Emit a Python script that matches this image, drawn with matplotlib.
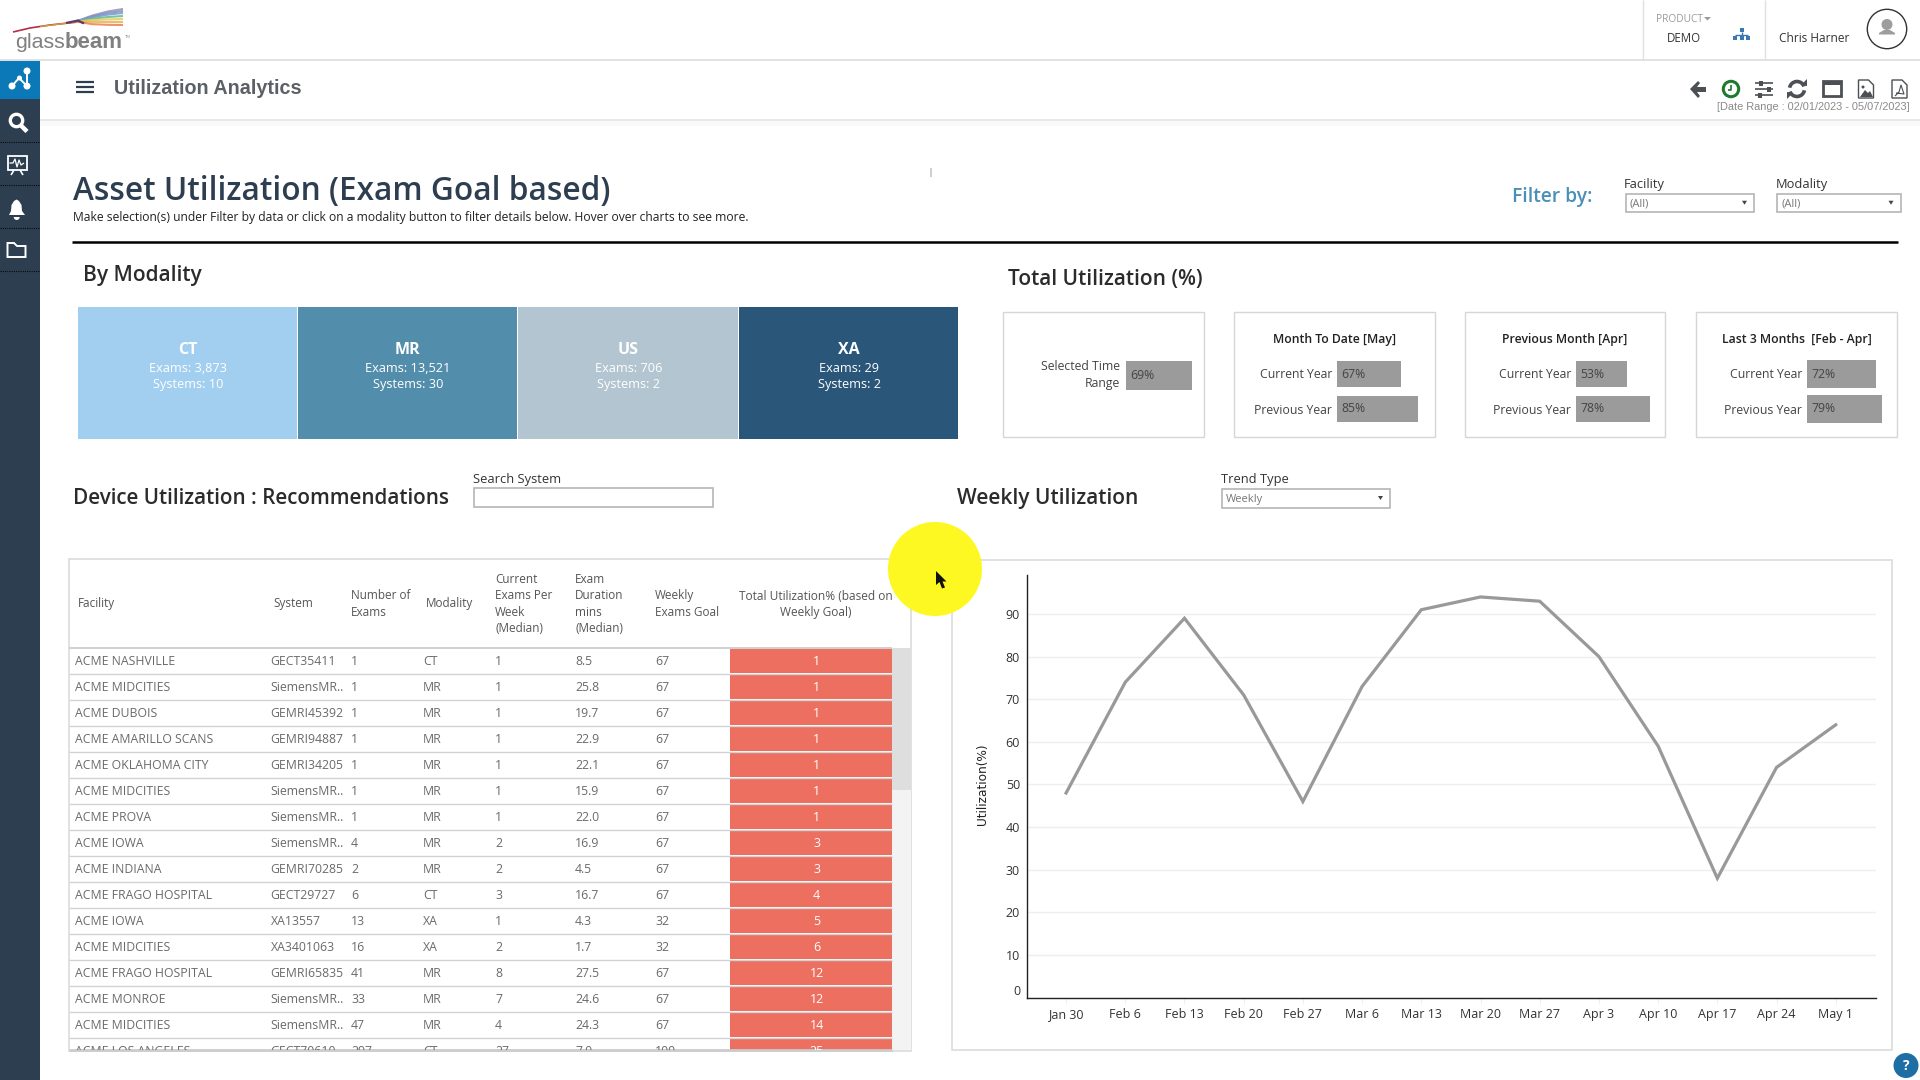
import matplotlib
matplotlib.use("Agg")
import matplotlib.pyplot as plt
from matplotlib.patches import Rectangle, Circle, Polygon, Arc, Wedge, Ellipse

plt.rcParams['font.family'] = ['Open Sans', 'DejaVu Sans']

# ---------- data ----------
modalities = ["CT", "MR", "US", "XA"]
modality_exams = ["3,873", "13,521", "706", "29"]
modality_systems = [10, 30, 2, 2]
modality_colors = ["#a2cff0", "#528eab", "#b3c5d1", "#2a5779"]

card_titles = ["", "Month To Date [May]", "Previous Month [Apr]", "Last 3 Months  [Feb - Apr]"]
selected_range = [69]
current_year = [67, 53, 72]
previous_year = [85, 78, 79]

facility = ["ACME NASHVILLE", "ACME MIDCITIES", "ACME DUBOIS", "ACME AMARILLO SCANS",
            "ACME OKLAHOMA CITY", "ACME MIDCITIES", "ACME PROVA", "ACME IOWA", "ACME INDIANA",
            "ACME FRAGO HOSPITAL", "ACME IOWA", "ACME MIDCITIES", "ACME FRAGO HOSPITAL",
            "ACME MONROE", "ACME MIDCITIES", "ACME LOS ANGELES"]
system = ["GECT35411", "SiemensMR..", "GEMRI45392", "GEMRI94887", "GEMRI34205", "SiemensMR..",
          "SiemensMR..", "SiemensMR..", "GEMRI70285", "GECT29727", "XA13557", "XA3401063",
          "GEMRI65835", "SiemensMR..", "SiemensMR..", "GECT70610"]
num_exams = [1, 1, 1, 1, 1, 1, 1, 4, 2, 6, 13, 16, 41, 33, 47, 297]
modality_col = ["CT", "MR", "MR", "MR", "MR", "MR", "MR", "MR", "MR", "CT", "XA", "XA", "MR", "MR", "MR", "CT"]
per_week = [1, 1, 1, 1, 1, 1, 1, 2, 2, 3, 1, 2, 8, 7, 4, 27]
duration = ["8.5", "25.8", "19.7", "22.9", "22.1", "15.9", "22.0", "16.9", "4.5", "16.7", "4.3",
            "1.7", "27.5", "24.6", "24.3", "7.0"]
goal = [67, 67, 67, 67, 67, 67, 67, 67, 67, 67, 32, 32, 67, 67, 67, 100]
total_util = [1, 1, 1, 1, 1, 1, 1, 3, 3, 4, 5, 6, 12, 12, 14, 25]

weeks = ["Jan 30", "Feb 6", "Feb 13", "Feb 20", "Feb 27", "Mar 6", "Mar 13", "Mar 20", "Mar 27",
         "Apr 3", "Apr 10", "Apr 17", "Apr 24", "May 1"]
utilization = [48, 74, 89, 71, 46, 73, 91, 94, 93, 80, 59, 28, 54, 64]
y_ticks = [0, 10, 20, 30, 40, 50, 60, 70, 80, 90]

# ---------- canvas ----------
W, H = 1920, 1080
fig = plt.figure(figsize=(19.2, 10.8), dpi=100, facecolor="white")
ui = fig.add_axes([0, 0, 1, 1], zorder=1)
ui.set_xlim(0, W); ui.set_ylim(H, 0); ui.axis("off")

def px_axes(x0, y0, x1, y1, z=2):
    return fig.add_axes([x0 / W, 1 - y1 / H, (x1 - x0) / W, (y1 - y0) / H], zorder=z)

def T(x, y, s, size=9, color="#333333", ha="left", va="center", **kw):
    return ui.text(x, y, s, fontsize=size, color=color, ha=ha, va=va, **kw)

def R(x0, y0, x1, y1, fc="none", ec="none", lw=1, **kw):
    p = Rectangle((x0, y0), x1 - x0, y1 - y0, facecolor=fc, edgecolor=ec, linewidth=lw, **kw)
    ui.add_patch(p)
    return p

def L(xs, ys, color="#333333", lw=1, **kw):
    ui.plot(xs, ys, color=color, lw=lw, solid_capstyle=kw.pop("cap", "butt"), **kw)

# ---------- header ----------
L([0, W], [59.5, 59.5], "#e2e2e2", 1.4)
L([40, W], [120, 120], "#e4e4e4", 1.2)
R(40, 121, W, 126, fc="#f9f9f9")
L([1643, 1643], [0, 60], "#e0e0e0", 1)
L([1764.5, 1764.5], [0, 60], "#e0e0e0", 1)

# logo
L([13, 30, 50, 78], [32, 28, 25, 22], "#b03048", 1.2)
L([40, 60, 78], [26.5, 24, 21.5], "#c9a040", 1.0)
for c, y_end in [("#9a8fb0", 9), ("#7f8fc8", 11), ("#6b9fd0", 13), ("#6bb58a", 16), ("#d8d060", 19),
                 ("#efb050", 22), ("#e88050", 25)]:
    y_mid = 21 + (y_end - 21) * 0.45 if y_end < 20 else 21.5 + (y_end - 21.5) * 0.75
    y_mid2 = 21 + (y_end - 21) * 0.8 if y_end < 20 else 21.5 + (y_end - 21.5) * 0.95
    L([76, 92, 108, 123], [21.5, y_mid, y_mid2, y_end], c, 1.5, alpha=.85)
L([66, 78, 84], [23, 20.5, 23.5], "#5a3a6a", 1.6)
T(15, 42.5, "glass", 15.4, "#808080", family=["Liberation Sans"])
T(65, 42.5, "beam", 16, "#808080", fontweight="bold", family=["Liberation Sans"])
T(124.5, 37.5, "TM", 3, "#808080")

# hamburger + title
for y in (81.5, 86.5, 91.5):
    L([76, 94], [y, y], "#2c3e50", 1.6)
T(114, 88, "Utilization Analytics", 14.2, "#5b6067", fontweight="bold", family=["Liberation Sans"])

T(1656, 19.5, "PRODUCT", 7.3, "#9a9a9a")
ui.add_patch(Polygon([[1704, 17], [1711, 17], [1707.5, 20.5]], fc="#9a9a9a"))
T(1684, 39, "DEMO", 8.3, "#333333", ha="center")
c_org = "#3a78b5"
R(1739.5, 28, 1743.5, 32, fc=c_org)
L([1741.5, 1741.5], [32, 35], c_org, 1)
L([1735, 1748], [35, 35], c_org, 1)
for x in (1733, 1739.5, 1746):
    R(x, 35.5, x + 4, 40, fc=c_org)
T(1779, 39, "Chris Harner", 8.6, "#333333")
ui.add_patch(Circle((1887, 29), 19.7, fc="white", ec="#333333", lw=1))
ui.add_patch(Circle((1887, 24.5), 5.5, fc="#9d9d9d"))
ui.add_patch(Polygon([[1879, 33], [1884, 30], [1890, 30], [1895, 33], [1895, 34.5], [1879, 34.5]], fc="#9d9d9d"))

# toolbar
ic = "#4c5054"
ui.add_patch(Polygon([[1690, 89], [1698, 81], [1700, 83], [1697, 87], [1706, 87], [1706, 92],
                      [1697, 92], [1700, 96], [1698, 98]], fc=ic))
ui.add_patch(Circle((1731, 89), 7.7, fc="white", ec="#1e7a2e", lw=2.2))
L([1731, 1731, 1728], [85, 90, 90], "#1e7a2e", 1.2)
for y, xk in ((83, 1761), (89, 1769), (95, 1760)):
    L([1755, 1773], [y, y], ic, 1.2)
    R(xk - 2, y - 2.5, xk + 2, y + 2.5, fc=ic)
ui.add_patch(Arc((1797, 89), 15, 15, theta1=190, theta2=340, ec=ic, lw=2.6))
ui.add_patch(Arc((1797, 89), 15, 15, theta1=10, theta2=160, ec=ic, lw=2.6))
ui.add_patch(Polygon([[1801, 85], [1807, 79], [1807, 86]], fc=ic))
ui.add_patch(Polygon([[1793, 93], [1787, 99], [1787, 92]], fc=ic))
R(1822.5, 81, 1841, 96, fc="white", ec=ic, lw=2)
R(1822.5, 81, 1841, 85, fc=ic)
for x0 in (1858.5, 1892):
    ui.add_patch(Polygon([[x0, 80], [x0 + 10, 80], [x0 + 15, 85], [x0 + 15, 98], [x0, 98]],
                         fc="white", ec=ic, lw=1))
ui.add_patch(Polygon([[1860, 97], [1865, 90], [1868, 93], [1870, 91], [1873, 97]], fc=ic))
ui.add_patch(Circle((1863, 87), 1.5, fc=ic))
L([1895, 1899, 1901, 1904, 1896], [96, 92, 85, 94, 93], ic, .8)
T(1910, 107, "[Date Range : 02/01/2023 - 05/07/2023]", 7.9, "#8a8a8a", ha="right", family=["Liberation Sans"])

# ---------- sidebar ----------
side = "#2c3e50"
R(0, 60, 40, H, fc=side)
R(0, 60, 40, 99, fc="#0b79b7")
for y in (142, 185, 228, 271):
    L([0, 40], [y, y], "#0a0a0a", 0.8, linestyle=(0, (1, 1)))
L([12, 19, 27, 27], [86, 78, 86, 71], "white", 1.4)
for x, y, r in ((12, 86, 3.5), (19.5, 78, 2.5), (27, 86, 3.5), (27, 71, 3.5)):
    ui.add_patch(Circle((x, y), r, fc="white"))
ui.add_patch(Circle((16.5, 120.5), 6.2, fc="none", ec="white", lw=2.4))
L([21, 27], [125.5, 131.5], "white", 3.2)
R(7.5, 156, 26.5, 170, ec="white", lw=1.3)
L([9.5, 13, 15, 17, 19, 21, 24], [163, 163, 159, 167, 160, 165, 163], "white", .9)
L([14, 11], [170, 175], "white", 1.2)
L([20, 23], [170, 175], "white", 1.2)
ui.add_patch(Polygon([[9, 215], [11, 211], [11.5, 205], [14, 201], [16.5, 199.5], [19, 201],
                      [21.5, 205], [22, 211], [25, 215]], fc="white"))
ui.add_patch(Wedge((16.7, 217), 3, 0, 180, fc="white"))
ui.add_patch(Polygon([[7.5, 243], [14, 243], [17, 246], [25.5, 246], [25.5, 257], [7.5, 257]],
                     fc="none", ec="white", lw=1.4))

# ---------- page head ----------
HEAD = dict(fontweight="semibold")
T(73, 191, "Asset Utilization (Exam Goal based)", 22.8, "#2c3e50", **HEAD)
T(73, 217, "Make selection(s) under Filter by data or click on a modality button to filter details below. Hover over charts to see more.",
  8.75, "#222222")
L([72, 1898], [241.7, 241.7], "#000000", 1.8)
R(930, 168, 931.5, 177, fc="#cfcfcf")
T(1512, 197, "Filter by:", 13.9, "#4a8fb8", fontweight="semibold")

def dropdown(x0, y0, x1, y1, txt):
    R(x0, y0, x1, y1, fc="white", ec="#b5b5b5", lw=1.2)
    T(x0 + 4, (y0 + y1) / 2 + 1.2, txt, 8, "#777777")
    ui.add_patch(Polygon([[x1 - 12, (y0 + y1) / 2 - 2], [x1 - 7, (y0 + y1) / 2 - 2],
                          [x1 - 9.5, (y0 + y1) / 2 + 2]], fc="#444444"))

T(1624, 184.5, "Facility", 9.3, "#333333")
dropdown(1626, 193.5, 1754, 212, "(All)")
T(1776, 184.5, "Modality", 9.3, "#333333")
dropdown(1777, 193.5, 1900.5, 212, "(All)")

# ---------- modality tiles ----------
T(83, 275, "By Modality", 15, "#2b2b2b", **HEAD)
tile_edges = [78, 297.5, 518, 739, 959]
for i, m in enumerate(modalities):
    x0, x1 = tile_edges[i], tile_edges[i + 1]
    R(x0, 307, x1 - .8, 439, fc=modality_colors[i])
    cx = (x0 + x1) / 2
    T(cx, 350, m, 11.5, "white", ha="center", fontweight="bold")
    T(cx, 368.5, f"Exams: {modality_exams[i]}", 9.2, "white", ha="center")
    T(cx, 384.5, f"Systems: {modality_systems[i]}", 9.2, "white", ha="center")

# ---------- KPI cards ----------
T(1008, 279, "Total Utilization (%)", 15, "#2b2b2b", **HEAD)
card_x = [(1003, 1204), (1234, 1435), (1465, 1665), (1696, 1897)]
for (x0, x1), title in zip(card_x, card_titles):
    R(x0, 312, x1, 437, fc="white", ec="#d6d6d6", lw=1)
    if title:
        T((x0 + x1) / 2, 339, title, 8.8, "#222222", ha="center", fontweight="semibold")

PX_PER_PCT = 0.955
def kpi_bar(left, y0, y1, value):
    ax = px_axes(left, y0, left + 100 * PX_PER_PCT, y1, 3)
    ax.barh([0], [value], height=1.0, color="#9b9b9b")
    ax.set_xlim(0, 100); ax.set_ylim(-.5, .5); ax.axis("off")
    ax.text(4 / PX_PER_PCT, 0, f"{value}%", fontsize=8.8, color="#444444", va="center", ha="left")

T(1120, 367, "Selected Time", 8.8, "#444444", ha="right")
T(1120, 383, "Range", 8.8, "#444444", ha="right")
kpi_bar(1126, 361, 390, selected_range[0])
bar_left = [1337, 1576, 1807]
label_right = [1332, 1571, 1802]
cur_y = [(361, 387), (361, 387), (360, 388)]
prv_y = [(396, 422), (396, 422), (395, 423)]
for i in range(3):
    T(label_right[i], 374, "Current Year", 8.8, "#444444", ha="right")
    T(label_right[i], 410, "Previous Year", 8.8, "#444444", ha="right")
    kpi_bar(bar_left[i], *cur_y[i], current_year[i])
    kpi_bar(bar_left[i], *prv_y[i], previous_year[i])

# ---------- table ----------
T(73, 498.5, "Device Utilization : Recommendations", 14.9, "#2b2b2b", **HEAD)
T(473, 479, "Search System", 9.3, "#333333")
R(474, 488, 713, 507, fc="white", ec="#b5b5b5", lw=1.2)

TX0, TX1, TY0, TY1 = 68.5, 911, 559, 1051
R(TX0, TY0, TX1, TY1, fc="white", ec="#d9d9d9", lw=1.1)
L([TX0, TX1 - 19], [648, 648], "#cfcfcf", 1.4)
hdr_c = "#555555"
hdr = [(78, ["Facility"]), (273.5, ["System"]), (351, ["Number of", "Exams"]), (426, ["Modality"]),
       (495, ["Current", "Exams Per", "Week", "(Median)"]), (575, ["Exam", "Duration", "mins", "(Median)"]),
       (655, ["Weekly", "Exams Goal"])]
for x, lines in hdr:
    top = 604 - (len(lines) - 1) * 16.3 / 2
    for j, s in enumerate(lines):
        T(x, top + j * 16.3, s, 8.5, hdr_c)
T(815.5, 596.5, "Total Utilization% (based on", 8.6, hdr_c, ha="center")
T(815.5, 612.8, "Weekly Goal)", 8.6, hdr_c, ha="center")

R(892, 648, 911, 1050, fc="#f3f3f3")
R(892, 648, 911, 790, fc="#dedede")
clip = Rectangle((TX0, 648), 892 - TX0, 1049.5 - 648, transform=ui.transData)
ROW = 26.0
cell_c = "#6a6a6a"
col_x = [74.8, 270.7, 351, 423, 495, 575, 655]
for r in range(len(facility)):
    y0 = 648 + r * ROW
    yc = y0 + 13.1
    cols = [facility[r], system[r], num_exams[r], modality_col[r], per_week[r], duration[r], goal[r]]
    for x, val in zip(col_x, cols):
        t = T(x, yc, str(val), 8.8, cell_c)
        t.set_clip_path(clip); t.set_clip_on(True)
    bar = R(730, y0 + .7, 892, min(y0 + ROW - .7, 1049.5), fc="#ec6f5f")
    t = T(816.6, yc + .7, str(total_util[r]), 9, "white", ha="center", fontweight="medium")
    t.set_clip_path(clip); t.set_clip_on(True)
    if y0 + ROW < 1049:
        L([TX0, 892], [y0 + ROW, y0 + ROW], "#d2d2d2", 1)
L([TX0, 892], [1050, 1050], "#cccccc", 2)

# ---------- weekly chart ----------
T(957, 498.5, "Weekly Utilization", 15, "#2b2b2b", **HEAD)
T(1221, 479, "Trend Type", 9.3, "#333333")
dropdown(1222, 488.5, 1390, 507.5, "Weekly")
R(951.5, 559.5, 1892, 1050, fc="white", ec="#d9d9d9", lw=1.1)

ax = px_axes(1027, 575, 1876, 998, 2)
ax.patch.set_alpha(0)
x_idx = list(range(len(weeks)))
ax.plot(x_idx, utilization, color="#999999", lw=2.3, solid_joinstyle="miter")
ax.set_xlim(-0.66, 13.68)
ax.set_ylim(-0.1, 99.15)
ax.set_xticks(x_idx); ax.set_xticklabels(weeks, fontsize=9, color="#333333")
ax.set_yticks(y_ticks); ax.set_yticklabels(y_ticks, fontsize=9, color="#333333")
for lab in ax.get_yticklabels():
    lab.set_va("center_baseline")
ax.get_yticklabels()[0].set_va("bottom")
ax.tick_params(axis="y", length=0, pad=5)
ax.tick_params(axis="x", length=4, color="#efefef", pad=3)
ax.grid(axis="y", color="#efefef", lw=1)
ax.set_axisbelow(True)
for s in ("top", "right"):
    ax.spines[s].set_visible(False)
for s in ("left", "bottom"):
    ax.spines[s].set_color("#222222"); ax.spines[s].set_linewidth(1)
ui.text(982, 784, "Utilization(%)", fontsize=8.7, rotation=90, ha="center", va="center",
        color="#222222", family=["DejaVu Sans"])

# ---------- overlays ----------
over = fig.add_axes([0, 0, 1, 1], zorder=5)
over.set_xlim(0, W); over.set_ylim(H, 0); over.axis("off"); over.patch.set_alpha(0)
over.add_patch(Ellipse((935, 569), 94, 94, fc="#fdf821", ec="none"))
over.add_patch(Polygon([[936, 571], [936, 585], [939.5, 582], [942, 588.5], [945, 587.5], [942.5, 581.5],
                        [946.5, 581.5]], fc="#111111", ec="none"))
over.add_patch(Circle((1906, 1065.5), 12.5, fc="#1e6ea6", ec="none"))
over.text(1906, 1065.5, "?", fontsize=10, color="white", ha="center", va="center", fontweight="bold")

fig.savefig("out.png", dpi=100)
